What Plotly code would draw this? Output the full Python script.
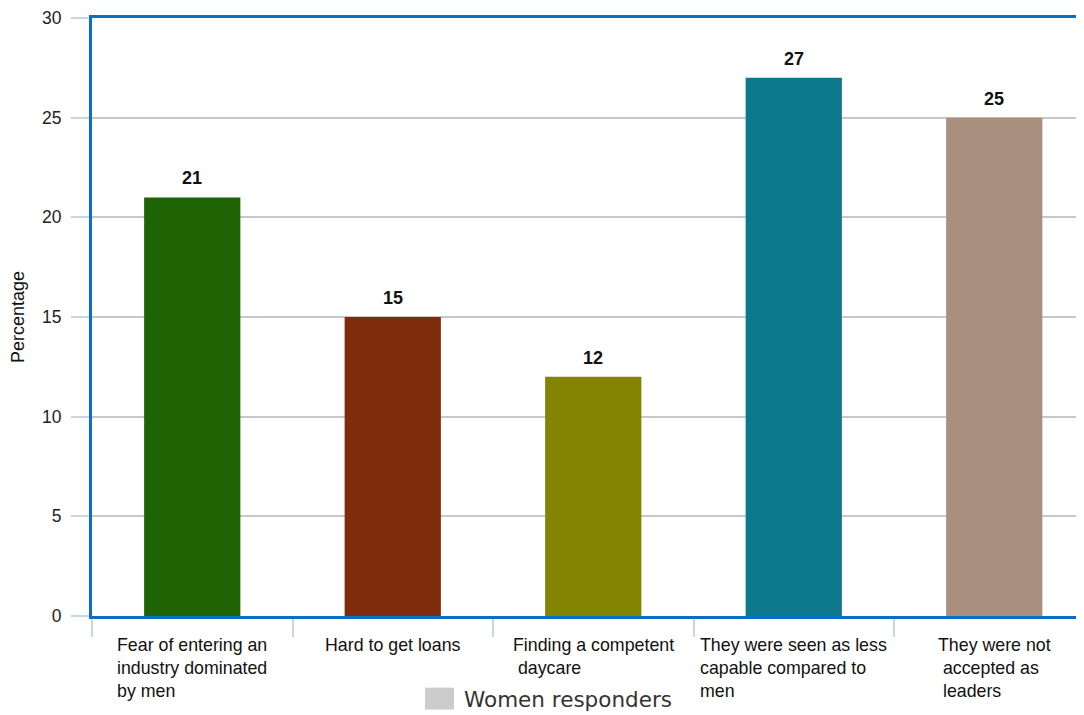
import plotly.graph_objects as go

categories = [
    "Fear of entering an<br>industry dominated<br>by men",
    "Hard to get loans",
    "Finding a competent<br> daycare",
    "They were seen as less<br>capable compared to<br>men",
    "They were not<br> accepted as<br> leaders",
]
keys = ["c1", "c2", "c3", "c4", "c5"]
values = [21, 15, 12, 27, 25]
colors = ["#1e6404", "#7e2c0c", "#848404", "#0b788c", "#a9907e"]
legend_name = "Women responders"

OFF = 8  # page body margin
W, H = 1084 - OFF, 715 - OFF
ML, MR, MT, MB = 92 - OFF, 0, 15 - OFF, 99
pw = W - ML - MR
ph = H - MT - MB

fig = go.Figure()
fig.add_trace(go.Bar(x=keys, y=values, marker_color=colors, width=0.48,
                     marker_line_width=0, showlegend=False, hoverinfo="skip"))

blue = "#0b6ec3"
tickc = "#c9d5e2"
fig.update_layout(
    width=W, height=H,
    margin=dict(l=ML, r=MR, t=MT, b=MB),
    plot_bgcolor="white", paper_bgcolor="white",
    font=dict(family="Liberation Sans, Arial, sans-serif", color="#222"),
    xaxis=dict(type="category", range=[-0.5, -0.5 + pw / 200.5],
               showline=True, linecolor=blue, linewidth=3, mirror=True,
               showgrid=False, tickson="boundaries", ticks="outside",
               ticklen=18, tickcolor=tickc, tickwidth=1.5,
               showticklabels=False, fixedrange=True),
    yaxis=dict(range=[0, 30], dtick=5, showline=True, linecolor=blue,
               linewidth=3, mirror=False, showgrid=True, gridcolor="#c8c8c8",
               gridwidth=1.5, zeroline=False, ticks="outside", ticklen=18,
               tickcolor=tickc, tickwidth=1.5, ticklabelstandoff=6,
               ticklabeloverflow="allow",
               tickfont=dict(size=17.5, color="#222"),
               title=dict(text="Percentage", font=dict(size=18, color="#111"), standoff=14)),
)

for k, lab in zip(keys, categories):
    fig.add_annotation(x=k, y=-0.028, xref="x", yref="paper", text=lab,
                       showarrow=False, xanchor="center", yanchor="top",
                       align="left", font=dict(size=17.8, color="#111"))

for k, v in zip(keys, values):
    fig.add_annotation(x=k, y=v, xref="x", yref="y", text="<b>%d</b>" % v,
                       showarrow=False, yanchor="bottom", yshift=7,
                       font=dict(size=18, color="#111"))

# legend (absolute page pixels -> paper coords)
def px2x(p):
    return (p - OFF - ML) / pw

def px2y(p):
    return (H + OFF - MB - p) / ph

fig.add_shape(type="rect", xref="paper", yref="paper",
              x0=px2x(425), x1=px2x(454), y0=px2y(710), y1=px2y(688),
              fillcolor="#cccccc", line=dict(width=0))
fig.add_annotation(x=px2x(462), y=px2y(700), xref="paper", yref="paper",
                   text=legend_name, showarrow=False, xanchor="left",
                   yanchor="middle", font=dict(size=21.5, color="#333",
                                               family="DejaVu Sans, sans-serif"))

fig.write_html("out.html")
